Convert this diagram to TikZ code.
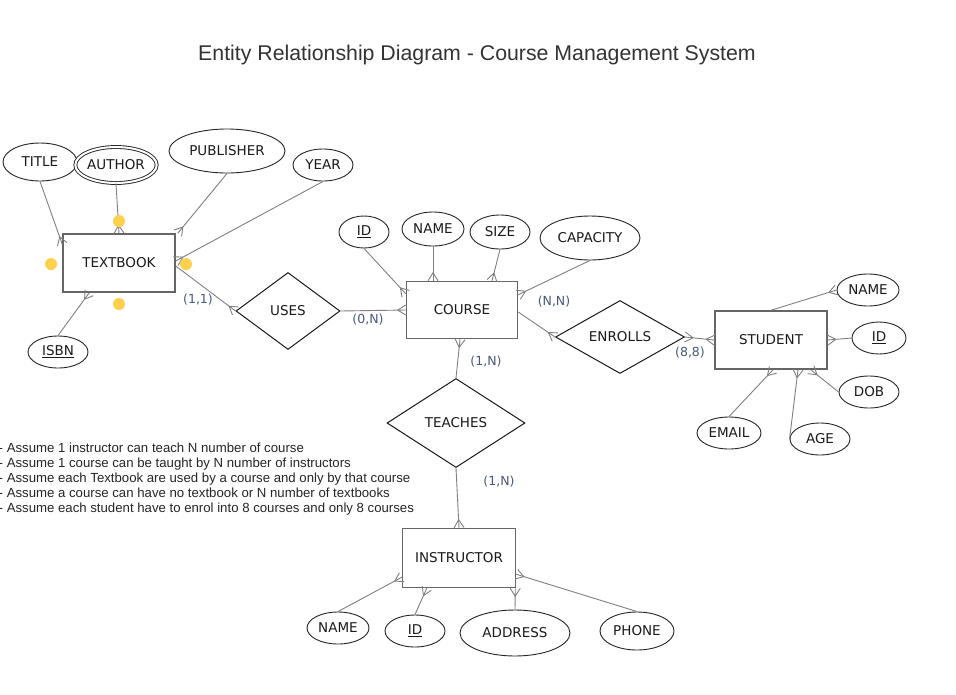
\documentclass[tikz,border=0pt]{standalone}
\usepackage{fontspec}
\setmainfont{DejaVu Sans}
\newfontfamily\arialf{Liberation Sans}
\usetikzlibrary{shapes.geometric,arrows.meta}
\pgfdeclarearrow{
  name = Crow,
  parameters = {\the\pgfarrowlength,\the\pgfarrowwidth},
  setup code = {
    \pgfarrowssettipend{0pt}
    \pgfarrowssetlineend{0pt}
    \pgfarrowssetbackend{-\pgfarrowlength}
    \pgfarrowssavethe\pgfarrowlength
    \pgfarrowssavethe\pgfarrowwidth
  },
  drawing code = {
    \pgfpathmoveto{\pgfqpoint{0pt}{.5\pgfarrowwidth}}
    \pgfpathlineto{\pgfqpoint{-\pgfarrowlength}{0pt}}
    \pgfpathlineto{\pgfqpoint{0pt}{-.5\pgfarrowwidth}}
    \pgfusepathqstroke
  },
  defaults = {length=8pt, width=10pt}
}
\definecolor{linegray}{HTML}{808080}
\definecolor{boxgray}{HTML}{666666}
\definecolor{dotyellow}{HTML}{FFD04D}
\definecolor{cardcol}{HTML}{4A5878}
\definecolor{txt}{HTML}{1A1A1A}
\tikzset{
  entity/.style={draw=boxgray, line width=1.5pt, fill=white, rectangle, inner sep=0pt,
    font=\fontsize{13.5}{15}\selectfont, text=txt},
  attr/.style={draw=black!85, line width=0.9pt, ellipse, inner sep=0pt, fill=white,
    font=\fontsize{13.5}{15}\selectfont, text=txt},
  rel/.style={draw=black!90, line width=1pt, diamond, inner sep=0pt, fill=white,
    font=\fontsize{13.5}{15}\selectfont, text=txt},
  conn/.style={draw=linegray, line width=0.9pt, line join=round},
  card/.style={font=\fontsize{12.5}{14}\selectfont, text=cardcol},
  dot/.style={circle, fill=dotyellow, minimum size=12pt, inner sep=0pt},
}
\begin{document}
\begin{tikzpicture}[x=1pt, y=-1pt]
\useasboundingbox[fill=white] (0,0) rectangle (956,694);

\node[font=\arialf\fontsize{21.3}{24}\selectfont, text=black!80] (title) at (477,55) {Entity Relationship Diagram - Course Management System};

% TEXTBOOK
\node[entity, minimum width=112pt, minimum height=58pt] (textbook) at (119,263) {TEXTBOOK};
\node[attr, minimum width=74pt, minimum height=38pt] (title2) at (40,162) {TITLE};
\node[attr, minimum width=78pt, minimum height=36pt, double, double distance=2pt] (author) at (116,165) {AUTHOR};
\node[attr, minimum width=116pt, minimum height=44pt] (publisher) at (227,151) {PUBLISHER};
\node[attr, minimum width=60pt, minimum height=32pt] (year) at (323,165) {YEAR};
\node[attr, minimum width=60pt, minimum height=32pt] (isbn) at (58,352) {\underline{ISBN}};

% COURSE
\node[entity, minimum width=111pt, minimum height=57pt] (course) at (462,310) {COURSE};
\node[attr, minimum width=50pt, minimum height=32pt] (cid) at (364,232) {\underline{ID}};
\node[attr, minimum width=62pt, minimum height=34pt] (cname) at (433,229) {NAME};
\node[attr, minimum width=60pt, minimum height=34pt] (csize) at (500,232) {SIZE};
\node[attr, minimum width=100pt, minimum height=44pt] (capacity) at (590,238) {CAPACITY};

% relationships
\node[rel, minimum width=104pt, minimum height=77pt] (uses) at (288,311) {USES};
\node[rel, minimum width=129pt, minimum height=73pt] (enrolls) at (620,337) {ENROLLS};
\node[rel, minimum width=138pt, minimum height=89pt] (teaches) at (456,423) {TEACHES};

% STUDENT
\node[entity, minimum width=112pt, minimum height=58pt] (student) at (771,340) {STUDENT};
\node[attr, minimum width=62pt, minimum height=32pt] (sname) at (868,290) {NAME};
\node[attr, minimum width=54pt, minimum height=32pt] (sid) at (879,338) {\underline{ID}};
\node[attr, minimum width=60pt, minimum height=32pt] (sdob) at (869,392) {DOB};
\node[attr, minimum width=64pt, minimum height=32pt] (semail) at (729,433) {EMAIL};
\node[attr, minimum width=60pt, minimum height=32pt] (sage) at (820,439) {AGE};

% INSTRUCTOR
\node[entity, minimum width=113pt, minimum height=59pt] (instructor) at (459,558) {INSTRUCTOR};
\node[attr, minimum width=62pt, minimum height=32pt] (iname) at (338,628) {NAME};
\node[attr, minimum width=60pt, minimum height=32pt] (iid) at (415,631) {\underline{ID}};
\node[attr, minimum width=110pt, minimum height=46pt] (iaddr) at (515,633) {ADDRESS};
\node[attr, minimum width=74pt, minimum height=38pt] (iphone) at (637,631) {PHONE};

% connectors
\draw[conn, -Crow] (title2.south) -- ([yshift=-11pt]textbook.north west);
\draw[conn, -Crow] (author.south) -- (textbook.north);
\draw[conn, -Crow] (publisher.south) -- ([xshift=2pt]textbook.north east);
\draw[conn, -Crow] (year.south) -- ([yshift=2pt]textbook.east);
\draw[conn, -Crow] (isbn.north) -- ([xshift=27pt]textbook.south west);
\draw[conn, -Crow] ([yshift=-3pt]textbook.east) -- (uses.west);
\draw[conn, -Crow] (uses.east) -- (course.west);
\draw[conn, -Crow] (cid.south) -- ([yshift=-13pt]course.north west);
\draw[conn, -Crow] (cname.south) -- ([xshift=-29pt]course.north);
\draw[conn, -Crow] (csize.south) -- ([xshift=30pt]course.north);
\draw[conn, -Crow] (capacity.south) -- ([yshift=-14pt]course.north east);
\draw[conn, -Crow] (teaches.north) -- ([xshift=-2pt]course.south);
\draw[conn, -Crow] ([yshift=-2pt]course.east) -- (enrolls.west);
\draw[conn, Crow-Crow] (enrolls.east) -- (student.west);
\draw[conn, -Crow] (student.north) -- (sname.west);
\draw[conn, -Crow] (sid.west) -- (student.east);
\draw[conn, -Crow] (sdob.west) -- ([xshift=-17pt]student.south east);
\draw[conn, -Crow] (semail.north) -- ([xshift=2pt]student.south);
\draw[conn, -Crow] (sage.west) -- ([xshift=27pt]student.south);
\draw[conn, -Crow] (teaches.south) -- (instructor.north);
\draw[conn, -Crow] (iname.north) -- ([yshift=11pt]instructor.south west);
\draw[conn, -Crow] (iid.north) -- ([xshift=25pt]instructor.south west);
\draw[conn, -Crow] (iaddr.north) -- ([xshift=-1pt]instructor.south east);
\draw[conn, -Crow] (iphone.north) -- ([yshift=14pt]instructor.south east);

% dots
\node[dot] (d1) at (119,221) {};
\node[dot] (d2) at (51,264) {};
\node[dot] (d3) at (186,264) {};
\node[dot] (d4) at (119,304) {};

% cardinalities
\node[card] (c11) at (198,300) {(1,1)};
\node[card] (c0n) at (368,320) {(0,N)};
\node[card] (cnn) at (554,302) {(N,N)};
\node[card] (c1n) at (486,362) {(1,N)};
\node[card] (c88) at (690,353) {(8,8)};
\node[card] (c1n2) at (499,482) {(1,N)};

% notes
\node[anchor=west, align=left, inner sep=0pt, font=\arialf\fontsize{13.2}{15}\selectfont, text=black!85] (notes) at (-1.5,479) {%
- Assume 1 instructor can teach N number of course\\
- Assume 1 course can be taught by N number of instructors\\
- Assume each Textbook are used by a course and only by that course\\
- Assume a course can have no textbook or N number of textbooks\\
- Assume each student have to enrol into 8 courses and only 8 courses};
\end{tikzpicture}
\end{document}
